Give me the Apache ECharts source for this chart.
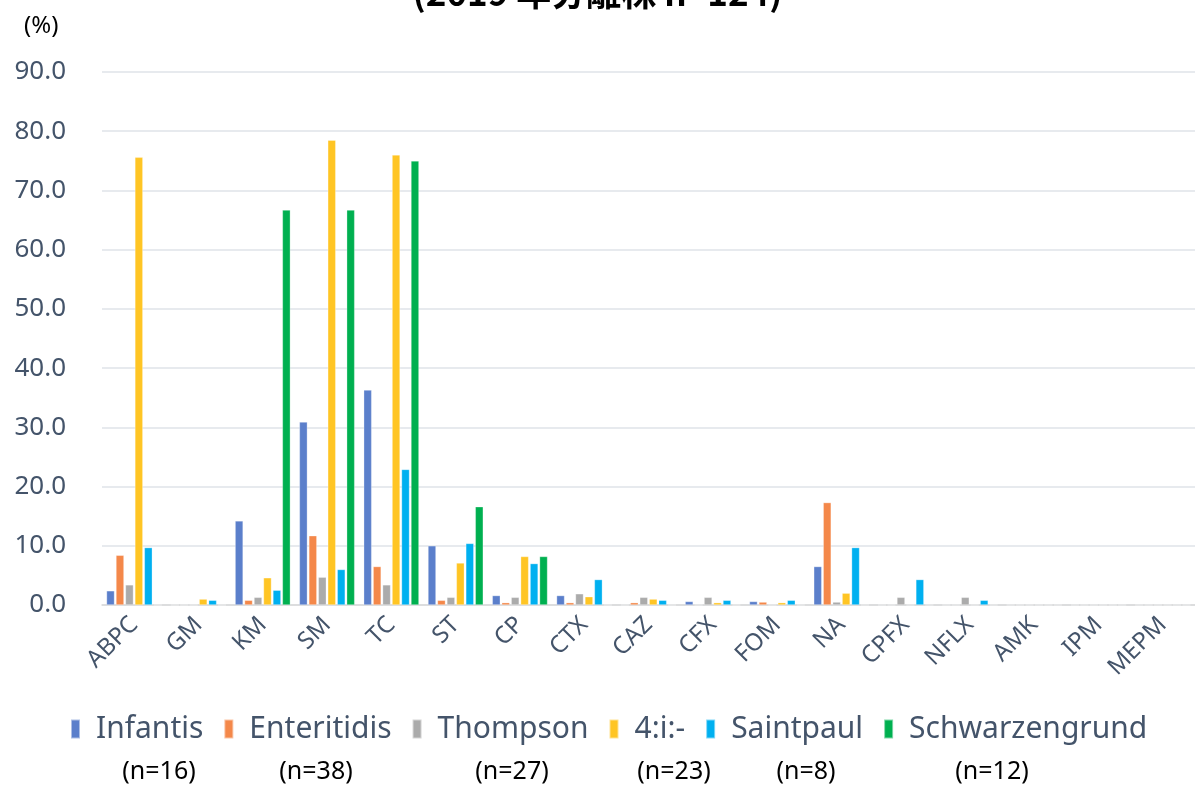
<!DOCTYPE html>
<html>
<head>
<meta charset="utf-8">
<script src="https://cdn.jsdelivr.net/npm/echarts@6/dist/echarts.min.js"></script>
<style>
  html, body { margin: 0; padding: 0; background: #fff; }
  #main { width: 1195px; height: 787px; }
</style>
</head>
<body>
<div id="main"></div>
<script>
// 薬剤（横軸）
const drugs = ["ABPC", "GM", "KM", "SM", "TC", "ST", "CP", "CTX", "CAZ", "CFX", "FOM", "NA", "CPFX", "NFLX", "AMK", "IPM", "MEPM"]
const yTicks = [0, 10, 20, 30, 40, 50, 60, 70, 80, 90]

// 血清型ごとの耐性率 (%)
const serovars = ["Infantis", "Enteritidis", "Thompson", "4:i:-", "Saintpaul", "Schwarzengrund"]
const counts = ["(n=16)", "(n=38)", "(n=27)", "(n=23)", "(n=8)", "(n=12)"]
const infantis       = [2.4, 0, 14.2, 30.9, 36.3, 10.0, 1.6, 1.6, 0, 0.6, 0.6, 6.5, 0, 0, 0, 0, 0]
const enteritidis    = [8.4, 0, 0.8, 11.7, 6.5, 0.8, 0.4, 0.4, 0.4, 0, 0.5, 17.3, 0, 0, 0, 0, 0]
const thompson       = [3.4, 0, 1.3, 4.7, 3.4, 1.3, 1.3, 1.9, 1.3, 1.3, 0, 0.5, 1.3, 1.3, 0, 0, 0]
const mono           = [75.6, 1.0, 4.6, 78.5, 76.0, 7.1, 8.2, 1.4, 1.0, 0.4, 0.4, 2.0, 0, 0, 0, 0, 0]
const saintpaul      = [9.7, 0.8, 2.5, 6.0, 22.9, 10.4, 7.0, 4.3, 0.8, 0.8, 0.8, 9.7, 4.3, 0.8, 0, 0, 0]
const schwarzengrund = [0, 0, 66.7, 66.7, 75.0, 16.6, 8.2, 0, 0, 0, 0, 0, 0, 0, 0, 0, 0]

const seriesData = [infantis, enteritidis, thompson, mono, saintpaul, schwarzengrund]
const colors = ["#5B7FCB", "#F4884A", "#ABABAB", "#FFC524", "#00B0F0", "#00B050"]

const nLabelX = [159, 316, 512, 674, 806, 992]

var myChart = echarts.init(document.getElementById('main'))

var option = {
    animation: false,
    color: colors,
    title: {
        text: '(2019 年分離株 n=124)',
        left: 'center',
        top: -30,
        textStyle: { fontSize: 35, fontWeight: 'bold', color: '#000', fontFamily: '"Noto Sans CJK JP"' }
    },
    legend: {
        data: serovars,
        bottom: 38,
        left: 65,
        itemWidth: 9,
        itemHeight: 19,
        itemGap: 20,
        icon: 'rect',
        textStyle: { fontSize: 30, color: '#44546A', fontFamily: '"Noto Sans"', padding: [0, 0, 0, 11] }
    },
    grid: {
        left: 102,
        right: -12,
        top: 72,
        bottom: 182
    },
    xAxis: {
        type: 'category',
        data: drugs,
        axisLine: { lineStyle: { color: '#D9D9D9', width: 1.5 } },
        axisTick: { show: false },
        axisLabel: {
            rotate: 45,
            margin: 16,
            fontSize: 24,
            color: '#44546A',
            fontFamily: '"Noto Sans"'
        }
    },
    yAxis: {
        type: 'value',
        min: yTicks[0],
        max: yTicks[yTicks.length - 1],
        interval: 10,
        axisLine: { show: false },
        axisTick: { show: false },
        splitLine: { lineStyle: { color: '#DFE3E8', width: 1.5 } },
        axisLabel: {
            margin: 36,
            fontSize: 26,
            color: '#44546A',
            fontFamily: '"Noto Sans"',
            formatter: v => v.toFixed(1)
        }
    },
    series: serovars.map((name, i) => ({
        name: name,
        type: 'bar',
        data: seriesData[i],
        barGap: '18%',
        barCategoryGap: '14%',
        itemStyle: { color: colors[i], borderColor: 'rgba(255,255,255,0.5)', borderWidth: 0.6 }
    })),
    graphic: [
        {
            type: 'text',
            left: 24,
            top: 14,
            style: { text: '(%)', fontSize: 24, fill: '#000', fontFamily: '"Noto Sans"' }
        }
    ].concat(counts.map((t, i) => ({
        type: 'text',
        x: nLabelX[i],
        y: 772,
        style: {
            text: t,
            fontSize: 25,
            fill: '#000',
            fontFamily: '"Noto Sans"',
            align: 'center',
            verticalAlign: 'middle'
        }
    })))
}

myChart.setOption(option)
</script>
</body>
</html>
